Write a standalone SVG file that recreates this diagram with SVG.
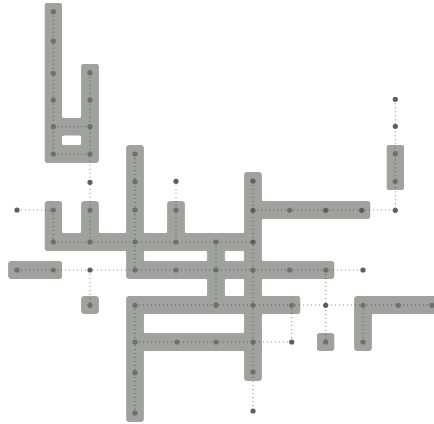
<svg xmlns="http://www.w3.org/2000/svg" width="434" height="424" viewBox="0 0 434 424">
<style>
.b{fill:none;stroke:#a0a2a0;stroke-width:17.4;stroke-linecap:square;stroke-linejoin:miter}
.c{fill:none;stroke:#929292;stroke-width:1.1;stroke-dasharray:1 3}
#connectors{mix-blend-mode:multiply}
.n{fill:#6e706e}
.o{fill:#5e5e60}
</style>
<defs>
<filter id="r" x="-5%" y="-5%" width="110%" height="110%" color-interpolation-filters="sRGB">
<feGaussianBlur stdDeviation="1.1"/>
<feComponentTransfer><feFuncA type="linear" slope="6" intercept="-2.5"/></feComponentTransfer>
<feGaussianBlur stdDeviation="0.35"/>
</filter>
<filter id="s" x="-5%" y="-5%" width="110%" height="110%" color-interpolation-filters="sRGB"><feGaussianBlur stdDeviation="0.35"/></filter>
</defs>
<rect width="434" height="424" fill="#fff"/>
<g id="bands" filter="url(#r)">
<path class="b" d="M53.3 11.7V154H90V72.7M53.3 126.7H90"/>
<path class="b" d="M135 154V270M53.3 210V242H253M90 210V242M176 210V242M17 270H53.3M135 270H325.7M216 242V305M253 181V372M253 210H361.7M395.3 153.7V181.3"/>
<path class="b" d="M291.7 305H135V413M135 342H253M363 342V305H445"/>
<path class="b" d="M90 305h.01M325.7 342h.01"/>
</g>
<g id="connectors" filter="url(#s)">
<path class="c" d="M53.3 11.7V154M90 72.7V242M53.3 126.7H90M53.3 154H90M135 154V270M176 181V242M53.3 210V242M17 210H53.3M53.3 242H253M17 270H363M90 270V305M216 242V305M253 181V411M253 210H395.3M395.3 99.3V210M135 305V413M135 305H434M135 342H291.7M291.7 305V342M325.7 270V342M363 305V342"/>
</g>
<g id="nodes" filter="url(#s)">
<g id="n1"><circle class="n" cx="53.3" cy="11.7" r="2.6"/></g>
<g id="n2"><circle class="n" cx="53.3" cy="41" r="2.6"/></g>
<g id="n3"><circle class="n" cx="53.3" cy="73.3" r="2.6"/></g>
<g id="n4"><circle class="n" cx="53.3" cy="100" r="2.6"/></g>
<g id="n5"><circle class="n" cx="53.3" cy="126.7" r="2.6"/></g>
<g id="n6"><circle class="n" cx="53.3" cy="154" r="2.6"/></g>
<g id="n7"><circle class="n" cx="90" cy="72.7" r="2.6"/></g>
<g id="n8"><circle class="n" cx="90" cy="100" r="2.6"/></g>
<g id="n9"><circle class="n" cx="90" cy="126.7" r="2.6"/></g>
<g id="n10"><circle class="n" cx="90" cy="154" r="2.6"/></g>
<g id="n11"><circle class="o" cx="90" cy="182.3" r="2.6"/></g>
<g id="n12"><circle class="n" cx="135" cy="154" r="2.6"/></g>
<g id="n13"><circle class="n" cx="135" cy="181.7" r="2.6"/></g>
<g id="n14"><circle class="o" cx="176" cy="181.3" r="2.6"/></g>
<g id="n15"><circle class="o" cx="17" cy="210" r="2.6"/></g>
<g id="n16"><circle class="n" cx="53.3" cy="210" r="2.6"/></g>
<g id="n17"><circle class="n" cx="90" cy="210" r="2.6"/></g>
<g id="n18"><circle class="n" cx="135" cy="210" r="2.6"/></g>
<g id="n19"><circle class="n" cx="176" cy="210" r="2.6"/></g>
<g id="n20"><circle class="n" cx="53.3" cy="242" r="2.6"/></g>
<g id="n21"><circle class="n" cx="90" cy="242" r="2.6"/></g>
<g id="n22"><circle class="n" cx="135" cy="242" r="2.6"/></g>
<g id="n23"><circle class="n" cx="176" cy="242" r="2.6"/></g>
<g id="n24"><circle class="n" cx="216" cy="242" r="2.6"/></g>
<g id="n25"><circle class="o" cx="253" cy="242" r="2.6"/></g>
<g id="n26"><circle class="n" cx="17" cy="270" r="2.6"/></g>
<g id="n27"><circle class="n" cx="53.3" cy="270" r="2.6"/></g>
<g id="n28"><circle class="o" cx="90" cy="270" r="2.6"/></g>
<g id="n29"><circle class="n" cx="135" cy="270" r="2.6"/></g>
<g id="n30"><circle class="n" cx="176" cy="270" r="2.6"/></g>
<g id="n31"><circle class="n" cx="216" cy="270" r="2.6"/></g>
<g id="n32"><circle class="n" cx="253" cy="270" r="2.6"/></g>
<g id="n33"><circle class="n" cx="289.7" cy="270" r="2.6"/></g>
<g id="n34"><circle class="n" cx="325.7" cy="270" r="2.6"/></g>
<g id="n35"><circle class="o" cx="363" cy="270" r="2.6"/></g>
<g id="n36"><circle class="n" cx="90" cy="305.3" r="2.6"/></g>
<g id="n37"><circle class="n" cx="135" cy="305.3" r="2.6"/></g>
<g id="n38"><circle class="n" cx="216" cy="305.3" r="2.6"/></g>
<g id="n39"><circle class="n" cx="253" cy="305.3" r="2.6"/></g>
<g id="n40"><circle class="n" cx="291.7" cy="305.3" r="2.6"/></g>
<g id="n41"><circle class="o" cx="325.7" cy="305.3" r="2.6"/></g>
<g id="n42"><circle class="n" cx="363" cy="305.3" r="2.6"/></g>
<g id="n43"><circle class="n" cx="398.3" cy="305.3" r="2.6"/></g>
<g id="n44"><circle class="n" cx="432" cy="305.3" r="2.6"/></g>
<g id="n45"><circle class="n" cx="135" cy="342" r="2.6"/></g>
<g id="n46"><circle class="n" cx="177" cy="342" r="2.6"/></g>
<g id="n47"><circle class="n" cx="216" cy="342" r="2.6"/></g>
<g id="n48"><circle class="n" cx="253" cy="342" r="2.6"/></g>
<g id="n49"><circle class="o" cx="291.7" cy="342" r="2.6"/></g>
<g id="n50"><circle class="n" cx="325.7" cy="342" r="2.6"/></g>
<g id="n51"><circle class="n" cx="363" cy="342" r="2.6"/></g>
<g id="n52"><circle class="n" cx="135" cy="372.7" r="2.6"/></g>
<g id="n53"><circle class="n" cx="135" cy="413" r="2.6"/></g>
<g id="n54"><circle class="o" cx="253" cy="181" r="2.6"/></g>
<g id="n55"><circle class="o" cx="253" cy="210.3" r="2.6"/></g>
<g id="n56"><circle class="n" cx="253" cy="372" r="2.6"/></g>
<g id="n57"><circle class="o" cx="253" cy="411" r="2.6"/></g>
<g id="n58"><circle class="n" cx="289.7" cy="210.3" r="2.6"/></g>
<g id="n59"><circle class="o" cx="325.7" cy="210.3" r="2.6"/></g>
<g id="n60"><circle class="o" cx="361.7" cy="210.3" r="2.6"/></g>
<g id="n61"><circle class="o" cx="395.3" cy="210.3" r="2.6"/></g>
<g id="n62"><circle class="o" cx="395.3" cy="99.3" r="2.6"/></g>
<g id="n63"><circle class="o" cx="395.3" cy="126.3" r="2.6"/></g>
<g id="n64"><circle class="n" cx="395.3" cy="153.7" r="2.6"/></g>
<g id="n65"><circle class="n" cx="395.3" cy="181.3" r="2.6"/></g>
</g>
</svg>
